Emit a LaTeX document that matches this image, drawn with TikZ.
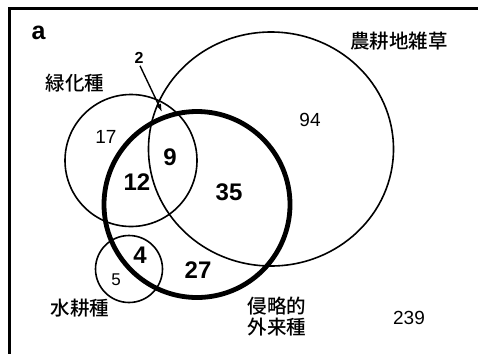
\documentclass[tikz,border=0pt]{standalone}
\usepackage{fontspec}
\setmainfont{Liberation Sans}
\newfontfamily\jp{Noto Sans CJK JP}[UprightFont=* Medium]
\usetikzlibrary{arrows.meta,shapes.geometric}
\tikzset{
  thinc/.style={draw, line width=1.6pt, inner sep=0pt},
  thickc/.style={draw, line width=4.8pt, inner sep=0pt},
  jlabel/.style={font=\jp\fontsize{19.5}{23}\selectfont, inner sep=0pt, align=center},
  num/.style={font=\fontsize{19}{22}\selectfont, inner sep=0pt},
  bnum/.style={font=\bfseries\fontsize{24}{28}\selectfont, inner sep=0pt},
}
\begin{document}
\begin{tikzpicture}[x=1pt,y=-1pt]
\useasboundingbox (0,0) rectangle (478,354);
\fill[white] (0,0) rectangle (478,354);
\draw[line width=3pt] (478,8) -- (9.5,8) -- (9.5,354);
% sets
\node[thinc, ellipse, minimum width=245pt, minimum height=234pt] (weed) at (271,149) {};
\node[thinc, circle, minimum size=132pt] (green) at (131,160.5) {};
\node[thinc, circle, minimum size=67pt] (hydro) at (129,269) {};
\node[thickc, circle, minimum size=186pt] (inv) at (197,204.5) {};
% labels
\node[font=\bfseries\fontsize{25}{28}\selectfont, inner sep=0pt] (a) at (38.5,33) {a};
\node[jlabel] (lgreen) at (75,83) {緑化種};
\node[jlabel] (lweed) at (399,41) {農耕地雑草};
\node[jlabel] (lhydro) at (80,308) {水耕種};
\node[jlabel] (linv) at (277,317) {侵略的\\[-2pt]外来種};
% numbers
\node[font=\bfseries\fontsize{16}{18}\selectfont, inner sep=0pt] (n2) at (139,58) {2};
\coordinate (tip2) at (162,112);
\draw[line width=1.4pt, -{Latex[length=8pt,width=5.5pt]}] (n2.south) ++(1,2) -- (tip2);
\node[num] (n17) at (106,137) {17};
\node[num] (n94) at (310,120) {94};
\node[font=\fontsize{17}{20}\selectfont, inner sep=0pt] (n5) at (116,280) {5};
\node[num] (n239) at (409,318) {239};
\node[bnum] (n9) at (170,157) {9};
\node[bnum] (n12) at (137,182) {12};
\node[bnum] (n35) at (229,192) {35};
\node[bnum] (n4) at (140,255) {4};
\node[bnum] (n27) at (198,270) {27};
\end{tikzpicture}
\end{document}
